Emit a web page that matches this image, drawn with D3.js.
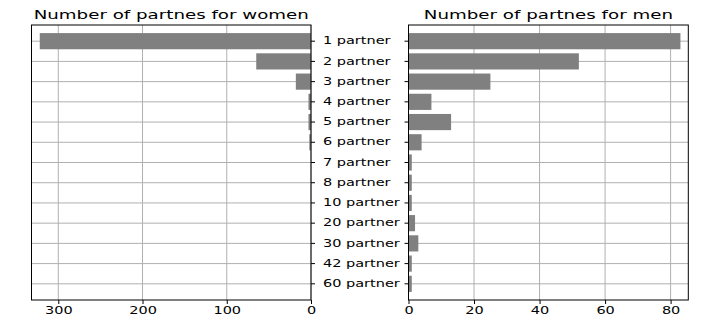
<!DOCTYPE html>
<html>
<head>
<meta charset="utf-8">
<script src="https://cdn.jsdelivr.net/npm/d3@7"></script>
<style>
  body { margin: 0; background: #fff; }
  svg { display: block; font-family: "DejaVu Sans", sans-serif; }
  .grid line { stroke: #b0b0b0; stroke-width: 1; }
</style>
</head>
<body>
<div id="chart"></div>
<script>
const categories = ["1 partner", "2 partner", "3 partner", "4 partner", "5 partner", "6 partner",
  "7 partner", "8 partner", "10 partner", "20 partner", "30 partner", "42 partner", "60 partner"];
const women = [322, 65, 18, 3, 3, 2, 0, 0, 0, 0, 0, 0, 0];
const men = [83, 52, 25, 7, 13, 4, 1, 1, 1, 2, 3, 1, 1];
const womenTicks = [300, 200, 100, 0];
const menTicks = [0, 20, 40, 60, 80];
const titles = ["Number of partnes for women", "Number of partnes for men"];

const width = 708, height = 327;
const plotTop = 25, plotBottom = 300;
const sx = 1.45; // horizontal stretch of the text

const svg = d3.select("#chart").append("svg")
  .attr("width", width).attr("height", height);

const yScale = d3.scaleBand()
  .domain(categories)
  .range([plotTop, plotBottom])
  .paddingInner(0.2)
  .paddingOuter(0.4);

// left panel (women), x reversed
const xWomen = d3.scaleLinear().domain([331.8, 0]).range([31.5, 311]);
// right panel (men)
const xMen = d3.scaleLinear().domain([0, 85.4]).range([408.5, 688.3]);

function drawPanel(xScale, values, ticks, title, side) {
  const [x0, x1] = xScale.range();
  const g = svg.append("g");

  // grid
  const grid = g.append("g").attr("class", "grid");
  grid.selectAll(".vg").data(ticks).join("line")
    .attr("x1", d => xScale(d)).attr("x2", d => xScale(d))
    .attr("y1", plotTop).attr("y2", plotBottom);
  grid.selectAll(".hg").data(categories).join("line")
    .attr("x1", x0).attr("x2", x1)
    .attr("y1", d => yScale(d) + yScale.bandwidth() / 2)
    .attr("y2", d => yScale(d) + yScale.bandwidth() / 2);

  // bars
  g.selectAll("rect.bar").data(values).join("rect")
    .attr("class", "bar")
    .attr("x", d => Math.min(xScale(0), xScale(d)))
    .attr("width", d => Math.abs(xScale(d) - xScale(0)))
    .attr("y", (d, i) => yScale(categories[i]))
    .attr("height", yScale.bandwidth())
    .attr("fill", "#808080");

  // frame
  g.append("rect")
    .attr("x", x0).attr("y", plotTop)
    .attr("width", x1 - x0).attr("height", plotBottom - plotTop)
    .attr("fill", "none").attr("stroke", "#000").attr("stroke-width", 1);

  // x axis
  const xAxis = g.append("g")
    .attr("transform", `translate(0,${plotBottom})`)
    .call(d3.axisBottom(xScale).tickValues(ticks).tickSize(4).tickPadding(3).tickSizeOuter(0));
  xAxis.select(".domain").remove();
  xAxis.selectAll("text")
    .attr("font-size", 10).attr("fill", "#000")
    .attr("font-family", "DejaVu Sans")
    .attr("transform", `scale(${sx},1)`);

  // y axis
  if (side === "left") {
    const yAxis = g.append("g")
      .attr("transform", `translate(${x1},0)`)
      .call(d3.axisRight(yScale).tickSize(4).tickPadding(0).tickSizeOuter(0));
    yAxis.select(".domain").remove();
    yAxis.selectAll("text")
      .attr("font-size", 10).attr("fill", "#000")
      .attr("font-family", "DejaVu Sans")
      .attr("x", 12 / sx)
      .attr("transform", `scale(${sx},1)`);
  } else {
    const yAxis = g.append("g")
      .attr("transform", `translate(${x0},0)`)
      .call(d3.axisLeft(yScale).tickSize(4).tickSizeOuter(0).tickFormat(""));
    yAxis.select(".domain").remove();
  }

  // title
  g.append("text")
    .attr("transform", `translate(${(x0 + x1) / 2},18.5) scale(1.52,1)`)
    .attr("text-anchor", "middle")
    .attr("font-size", 12)
    .attr("fill", "#000")
    .text(title);
}

drawPanel(xWomen, women, womenTicks, titles[0], "left");
drawPanel(xMen, men, menTicks, titles[1], "right");
</script>
</body>
</html>
